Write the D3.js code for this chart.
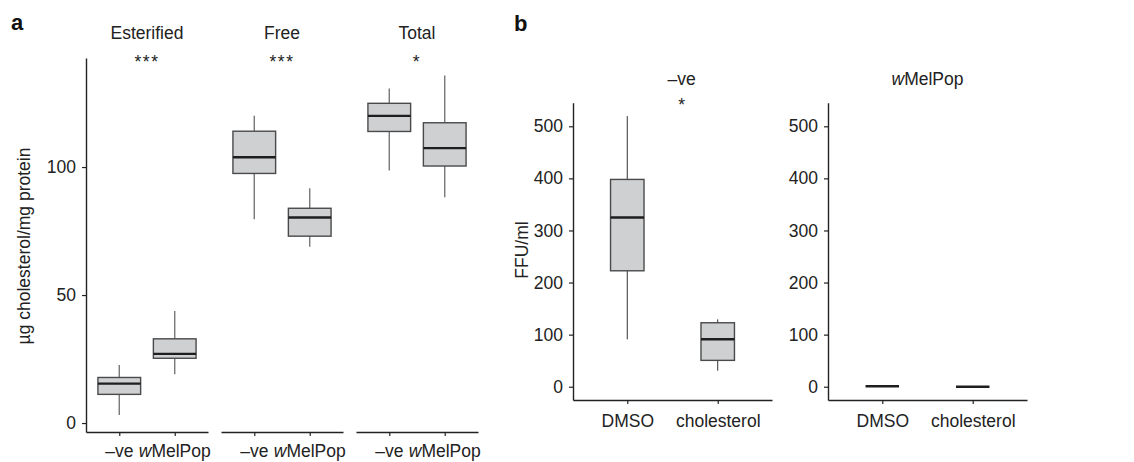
<!DOCTYPE html>
<html><head><meta charset="utf-8">
<script src="https://cdn.jsdelivr.net/npm/d3@7"></script>
<style>
html,body{margin:0;padding:0;background:#fff;}
text{font-family:"Liberation Sans",Arial,Helvetica,sans-serif;}
</style></head>
<body>
<svg id="chart" width="1134" height="462"></svg>
<script>
// ---------- Panel a data ----------
const aFacets = ["Esterified", "Free", "Total"];
const aGroups = ["–ve", "wMelPop"];
const aStars = ["***", "***", "*"];
const aMin    = [[3.1, 19.1], [79.6, 68.9], [98.7, 88.2]];
const aQ1     = [[11.2, 25.3], [97.5, 73.0], [113.9, 100.4]];
const aMedian = [[15.4, 27.0], [103.8, 80.3], [120.0, 107.4]];
const aQ3     = [[17.8, 32.9], [114.0, 83.9], [124.9, 117.3]];
const aMax    = [[22.7, 43.8], [120.0, 91.7], [130.7, 135.8]];
const aTicks  = [0, 50, 100];

// ---------- Panel b data ----------
const bFacets = ["–ve", "wMelPop"];
const bGroups = ["DMSO", "cholesterol"];
const bStars  = ["*", ""];
const bMin    = [[91, 30.7], [1, 0]];
const bQ1     = [[222.6, 50.6], [1, 0]];
const bMedian = [[325, 91], [1, 0]];
const bQ3     = [[398, 122.8], [1, 0]];
const bMax    = [[519.6, 129.3], [1, 0]];
const bTicks  = [0, 100, 200, 300, 400, 500];

const svg = d3.select("#chart");
const FS = 17.5;
const txt = "#222";

function italicW(sel, label) {
  if (label.startsWith("w")) {
    sel.append("tspan").attr("font-style", "italic").text("w");
    sel.append("tspan").text(label.slice(1));
  } else sel.text(label);
}

function drawBoxes(g, x, y, idx, mins, q1s, meds, q3s, maxs, groups, bw, whisk) {
  groups.forEach((grp, j) => {
    const cx = x(grp);
    const lo = mins[idx][j], q1 = q1s[idx][j], md = meds[idx][j], q3 = q3s[idx][j], hi = maxs[idx][j];
    g.append("line").attr("x1", cx).attr("x2", cx).attr("y1", y(hi)).attr("y2", y(q3))
      .attr("stroke", whisk.c).attr("stroke-width", whisk.w);
    g.append("line").attr("x1", cx).attr("x2", cx).attr("y1", y(q1)).attr("y2", y(lo))
      .attr("stroke", whisk.c).attr("stroke-width", whisk.w);
    g.append("rect").attr("x", cx - bw / 2).attr("width", bw)
      .attr("y", y(q3)).attr("height", Math.max(0, y(q1) - y(q3)))
      .attr("fill", "#cfd0d2").attr("stroke", "#4a4a4a").attr("stroke-width", 1.4);
    g.append("line").attr("x1", cx - bw / 2).attr("x2", cx + bw / 2)
      .attr("y1", y(md)).attr("y2", y(md))
      .attr("stroke", "#1e1e1e").attr("stroke-width", 2.4);
  });
}

// ---------- Panel a ----------
const aY = d3.scaleLinear().domain([-3.5, 142.6]).range([432, 58]);
const aX0 = [86, 221, 356], aW = 122;

svg.append("text").attr("x", 11).attr("y", 30).attr("font-size", 22).attr("font-weight", "bold")
  .attr("fill", "#111").text("a");

const aAxis = svg.append("g").attr("transform", `translate(${aX0[0]},0)`)
  .call(d3.axisLeft(aY).tickValues(aTicks).tickSize(4).tickPadding(6).tickSizeOuter(0));
aAxis.select(".domain").attr("stroke", txt).attr("stroke-width", 1.4);
aAxis.selectAll(".tick line").attr("stroke", txt).attr("stroke-width", 1.2);
aAxis.selectAll(".tick text").attr("font-size", FS).attr("fill", txt)
  .attr("font-family", '"Liberation Sans",Arial,sans-serif');

svg.append("text").attr("transform", `translate(30,246) rotate(-90)`).attr("text-anchor", "middle")
  .attr("font-size", FS).attr("fill", txt).text("µg cholesterol/mg protein");

aFacets.forEach((f, i) => {
  const x = d3.scalePoint().domain(aGroups).range([aX0[i], aX0[i] + aW]).padding(0.6);
  const g = svg.append("g");
  const cx = aX0[i] + aW / 2;
  g.append("text").attr("x", cx).attr("y", 39).attr("text-anchor", "middle")
    .attr("font-size", FS).attr("fill", txt).text(f);
  g.append("text").attr("x", cx).attr("y", 68).attr("text-anchor", "middle")
    .attr("font-size", FS).attr("fill", txt).attr("letter-spacing", 1.5).text(aStars[i]);
  drawBoxes(g, x, aY, i, aMin, aQ1, aMedian, aQ3, aMax, aGroups, 0.77 * x.step(), {c: "#777", w: 1.4});
  const ax = g.append("g").attr("transform", "translate(0,432)")
    .call(d3.axisBottom(x).tickSize(4).tickSizeOuter(0).tickPadding(8).tickFormat(""));
  ax.select(".domain").attr("stroke", txt).attr("stroke-width", 1.4);
  ax.selectAll(".tick line").attr("stroke", txt).attr("stroke-width", 1.2);
  aGroups.forEach(grp => {
    const t = g.append("text").attr("x", x(grp)).attr("y", 457).attr("text-anchor", "middle")
      .attr("font-size", FS).attr("fill", txt);
    italicW(t, grp);
  });
});

// ---------- Panel b ----------
const bY = d3.scaleLinear().domain([-25.5, 545.3]).range([400, 102.7]);
const bX0 = [573, 828], bW = 199;

svg.append("text").attr("x", 514).attr("y", 31).attr("font-size", 22).attr("font-weight", "bold")
  .attr("fill", "#111").text("b");

svg.append("text").attr("transform", `translate(528,250) rotate(-90)`).attr("text-anchor", "middle")
  .attr("font-size", FS).attr("fill", txt).text("FFU/ml");

bFacets.forEach((f, i) => {
  const x = d3.scalePoint().domain(bGroups).range([bX0[i], bX0[i] + bW]).padding(0.6);
  const g = svg.append("g");
  const yAx = g.append("g").attr("transform", `translate(${bX0[i]},0)`)
    .call(d3.axisLeft(bY).tickValues(bTicks).tickSize(4).tickPadding(6).tickSizeOuter(0));
  yAx.select(".domain").attr("stroke", txt).attr("stroke-width", 1.4);
  yAx.selectAll(".tick line").attr("stroke", txt).attr("stroke-width", 1.2);
  yAx.selectAll(".tick text").attr("font-size", FS).attr("fill", txt)
    .attr("font-family", '"Liberation Sans",Arial,sans-serif');
  const lx = i === 0 ? x(bGroups[0]) + 0.6 * x.step() : bX0[i] + bW / 2;
  const t = g.append("text").attr("x", lx).attr("y", 85).attr("text-anchor", "middle")
    .attr("font-size", FS).attr("fill", txt);
  italicW(t, f);
  g.append("text").attr("x", lx).attr("y", 111).attr("text-anchor", "middle")
    .attr("font-size", FS).attr("fill", txt).text(bStars[i]);
  drawBoxes(g, x, bY, i, bMin, bQ1, bMedian, bQ3, bMax, bGroups, 0.37 * x.step(), {c: "#333", w: 1});
  const ax = g.append("g").attr("transform", "translate(0,400)")
    .call(d3.axisBottom(x).tickSize(4).tickSizeOuter(0).tickPadding(8));
  ax.select(".domain").attr("stroke", txt).attr("stroke-width", 1.4);
  ax.selectAll(".tick line").attr("stroke", txt).attr("stroke-width", 1.2);
  ax.selectAll(".tick text").attr("font-size", FS).attr("fill", txt).attr("dy", null).attr("y", 27)
    .attr("font-family", '"Liberation Sans",Arial,sans-serif');
});
</script>
</body></html>
